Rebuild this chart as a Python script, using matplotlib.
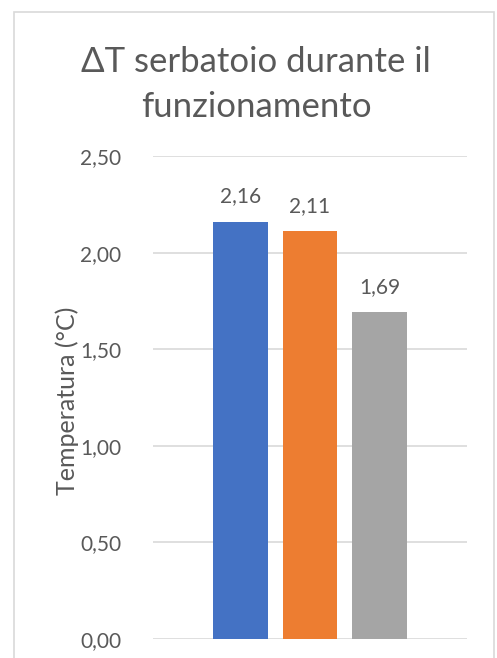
import matplotlib
matplotlib.use("Agg")
import matplotlib.pyplot as plt
from matplotlib.patches import Rectangle
from matplotlib.ticker import FuncFormatter

title = "ΔT serbatoio durante il\nfunzionamento"
ylabel = "Temperatura (°C)"
series = ["Serie 1", "Serie 2", "Serie 3"]
values = [2.16, 2.11, 1.69]
colors = ["#4472C4", "#ED7D31", "#A5A5A5"]
yticks = [0.0, 0.5, 1.0, 1.5, 2.0, 2.5]

plt.rcParams["font.family"] = ["Lato", "DejaVu Sans"]
text_color = "#595959"

W, H = 497, 658
fig = plt.figure(figsize=(W / 100, H / 100), dpi=100)

# chart frame
fig.patches.append(Rectangle((14 / W, -0.05), (494 - 14) / W, 1.05 - 12 / H,
                             transform=fig.transFigure, fill=False,
                             edgecolor="#D9D9D9", linewidth=1.2))

ax = fig.add_axes([153 / W, 19 / H, (467 - 153) / W, (639 - 156) / H])
x = list(range(len(values)))
bars = ax.bar(x, values, width=0.79, color=colors, zorder=3)
for xi, v in zip(x, values):
    ax.annotate(f"{v:.2f}".replace(".", ","), (xi, v), xytext=(0, 11),
                textcoords="offset points", ha="center", va="bottom",
                fontsize=15, color=text_color)

ax.set_ylim(0, 2.5)
ax.set_xlim(-1.259, 3.259)
ax.set_yticks(yticks)
ax.yaxis.set_major_formatter(FuncFormatter(lambda v, p: f"{v:.2f}".replace(".", ",")))
ax.set_xticks([])
ax.grid(axis="y", color="#D9D9D9", linewidth=1.2, zorder=0)
for s in ax.spines.values():
    s.set_visible(False)
ax.tick_params(axis="y", length=0, pad=23, labelsize=15, labelcolor=text_color)
ax.set_ylabel(ylabel, fontsize=18, color=text_color)
ax.yaxis.set_label_coords(67 / W, 1 - 401 / H, transform=fig.transFigure)
ax.yaxis.label.set_va("center")

fig.text(256 / W, 1 - 46 / H, title, ha="center", va="top", fontsize=25,
         color=text_color, linespacing=1.5)

fig.savefig("out.png", dpi=100)
